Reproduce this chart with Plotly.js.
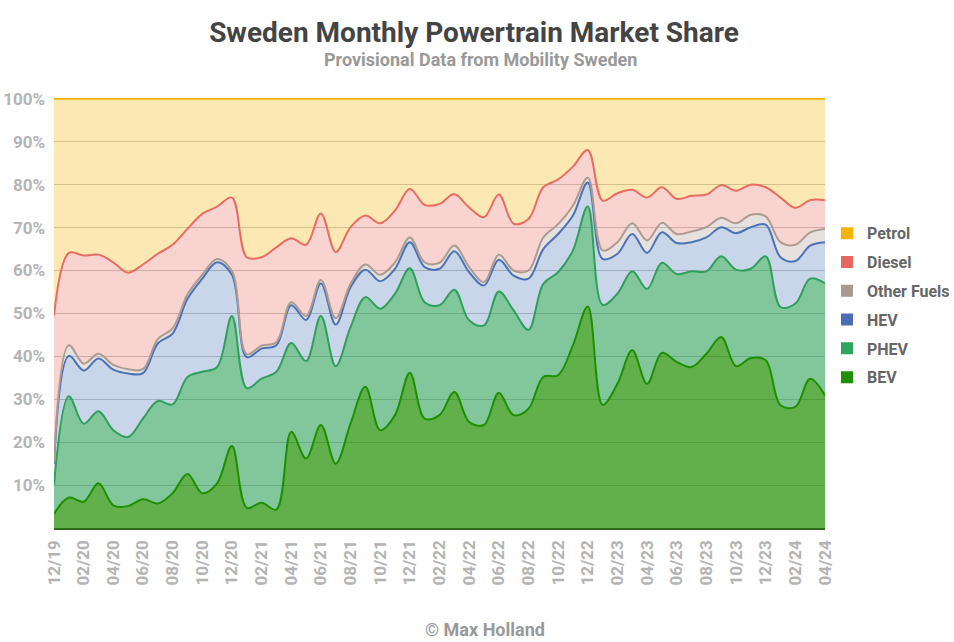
<!DOCTYPE html>
<html>
<head>
<meta charset="utf-8">
<script src="https://cdn.plot.ly/plotly-3.0.1.min.js"></script>
<style>html,body{margin:0;padding:0;background:#fff;}#chart{width:954px;height:642px;}</style>
</head>
<body>
<div id="chart"></div>
<script>
const months = ['12/19','01/20','02/20','03/20','04/20','05/20','06/20','07/20','08/20','09/20','10/20','11/20',
  '12/20','01/21','02/21','03/21','04/21','05/21','06/21','07/21','08/21','09/21','10/21','11/21',
  '12/21','01/22','02/22','03/22','04/22','05/22','06/22','07/22','08/22','09/22','10/22','11/22',
  '12/22','01/23','02/23','03/23','04/23','05/23','06/23','07/23','08/23','09/23','10/23','11/23',
  '12/23','01/24','02/24','03/24','04/24'];

const bev = [3.3,7.1,6.1,10.4,5.3,5.1,6.7,5.7,8.1,12.6,8.1,10.4,
  19.1,4.7,5.9,4.3,22.4,16.2,24.0,15.0,24.3,32.9,22.8,26.3,
  36.2,25.5,26.3,31.7,24.7,24.0,31.5,26.3,27.8,35.2,35.6,42.6,
  51.6,28.7,33.6,41.4,33.6,40.8,38.7,37.5,40.6,44.5,37.7,39.6,
  39.1,28.6,28.2,34.8,30.9];
const phev = [6.7,23.6,18.2,16.8,17.5,16.1,18.8,23.9,20.7,22.6,28.3,27.1,
  30.3,27.9,28.9,32.1,20.7,22.7,25.4,22.7,22.5,20.9,28.3,28.3,
  24.3,27.1,25.6,23.8,23.7,23.2,23.6,24.4,18.4,21.7,24.0,22.1,
  23.3,23.3,21.0,18.4,22.1,21.0,20.5,22.3,19.2,18.8,22.5,20.8,
  24.2,22.9,24.1,23.3,26.1];
const hev = [5.0,9.4,12.4,12.3,14.1,14.8,10.6,13.4,16.5,18.2,21.7,24.4,
  9.6,7.2,7.0,6.2,8.8,9.6,7.6,9.7,9.3,6.4,6.4,5.8,
  6.1,8.2,8.5,9.0,11.2,9.3,7.4,8.1,11.9,8.1,8.9,8.1,
  5.6,10.7,9.3,8.7,8.4,7.1,7.2,6.8,7.9,6.8,8.5,9.7,
  7.4,11.6,9.9,7.7,9.6];
const other = [0.5,2.5,1.6,1.1,1.1,1.0,0.9,1.0,1.2,1.0,0.9,0.8,
  0.9,0.7,0.7,0.7,0.7,0.9,0.8,1.5,0.8,1.2,1.5,1.5,
  1.1,1.1,1.4,1.3,1.2,0.8,1.2,1.2,1.9,2.7,2.3,2.3,
  1.1,2.0,2.7,2.5,2.9,2.2,2.1,2.5,2.4,2.2,2.3,2.9,
  1.9,3.5,3.8,3.1,3.1];
const diesel = [34.0,21.5,25.2,23.1,23.9,22.5,24.4,19.9,19.5,15.3,14.2,12.2,
  17.1,22.6,20.6,22.1,14.9,16.6,15.5,15.4,13.2,11.4,12.0,12.1,
  11.3,13.4,13.7,12.0,13.9,15.1,14.0,10.9,12.0,11.7,10.4,9.1,
  6.5,11.6,11.4,7.8,10.0,8.3,8.2,8.3,7.6,7.6,7.6,7.0,
  6.8,10.4,8.6,7.5,6.7];
const petrol = [50.5,35.9,36.5,36.3,38.1,40.5,38.6,36.1,34.0,30.3,26.8,25.1,
  23.0,36.9,36.9,34.6,32.5,34.0,26.7,35.7,29.9,27.2,29.0,26.0,
  21.0,24.7,24.5,22.2,25.3,27.6,22.3,29.1,28.0,20.6,18.8,15.8,
  11.9,23.7,22.0,21.2,23.0,20.6,23.3,22.6,22.3,20.1,21.4,20.0,
  20.6,23.0,25.4,23.6,23.6];

const seriesNames = ['BEV','PHEV','HEV','Other Fuels','Diesel','Petrol'];
const seriesData = [bev, phev, hev, other, diesel, petrol];
const lineColors = ['#1f8f00','#2ea05a','#4a73b6','#ac9b91','#e86c5f','#f4b400'];
const fillColors = ['rgba(31,143,0,0.70)','rgba(46,160,90,0.60)','rgba(75,115,182,0.30)',
  'rgba(172,155,145,0.30)','rgba(232,108,95,0.30)','rgba(244,180,0,0.30)'];
const legendColors = {'Petrol':'#f4b400','Diesel':'#e8675f','Other Fuels':'#a9998f','HEV':'#4a6eb5','PHEV':'#2da55d','BEV':'#1f8f00'};
const legendOrder = ['Petrol','Diesel','Other Fuels','HEV','PHEV','BEV'];

const traces = [];
seriesNames.forEach((name, i) => {
  traces.push({
    type: 'scatter', x: months, y: seriesData[i], name: name,
    stackgroup: 'one', mode: 'lines',
    line: {color: lineColors[i], width: 2, shape: 'spline', smoothing: 1},
    fillcolor: fillColors[i], showlegend: false, hoverinfo: 'skip'
  });
});
legendOrder.forEach((name, k) => {
  traces.push({
    type: 'scatter', x: [null], y: [null], name: name, mode: 'markers',
    marker: {symbol: 'square', size: 12, color: legendColors[name]},
    legendgroup: 'g' + k, showlegend: true, hoverinfo: 'skip'
  });
});

const tickMonths = months.filter((m, i) => i % 2 === 0);
const gray = '#b4b4b4';

const layout = {
  width: 954, height: 642,
  margin: {l: 54, r: 129, t: 98, b: 114, autoexpand: false},
  paper_bgcolor: '#ffffff', plot_bgcolor: '#ffffff',
  font: {family: 'Roboto, sans-serif', color: '#666'},
  title: {
    text: 'Sweden Monthly Powertrain Market Share',
    font: {family: 'Roboto, sans-serif', size: 28, color: '#444444', weight: 700},
    x: 474/954, xanchor: 'center', xref: 'container', y: 1 - 32/642, yref: 'container', yanchor: 'middle'
  },
  annotations: [
    {text: 'Provisional Data from Mobility Sweden', xref: 'paper', yref: 'paper',
     x: (480-54)/771, y: 1 + (98-60)/430, xanchor: 'center', yanchor: 'middle', showarrow: false,
     font: {family: 'Roboto, sans-serif', size: 18, color: '#999999', weight: 700}},
    {text: '© Max Holland', xref: 'paper', yref: 'paper',
     x: (485-54)/771, y: -(629-528)/430, xanchor: 'center', yanchor: 'middle', showarrow: false,
     font: {family: 'Roboto, sans-serif', size: 18, color: '#999999', weight: 700}}
  ],
  xaxis: {
    type: 'category', range: [0, 52], tickmode: 'array', tickvals: tickMonths, ticktext: tickMonths,
    tickangle: -90, tickfont: {family: 'Roboto, sans-serif', size: 17, color: gray, weight: 700},
    showgrid: false, zeroline: false, showline: true, linecolor: '#2f6b1c', linewidth: 1.5,
    ticks: '', ticklabelstandoff: 4, fixedrange: true
  },
  yaxis: {
    range: [0, 100.2], tickmode: 'array', tickvals: [10,20,30,40,50,60,70,80,90,100],
    ticktext: ['10%','20%','30%','40%','50%','60%','70%','80%','90%','100%'],
    tickfont: {family: 'Roboto, sans-serif', size: 17, color: gray, weight: 700},
    showgrid: true, gridcolor: '#c4c4c4', gridwidth: 1, zeroline: false, showline: false,
    ticks: '', ticklabelstandoff: 8, fixedrange: true
  },
  legend: {
    x: (827-54)/771, xanchor: 'left', y: 0.518, yanchor: 'middle', traceorder: 'grouped',
    tracegroupgap: 5, font: {family: 'Roboto, sans-serif', size: 16, color: '#666666', weight: 700},
    bgcolor: 'rgba(0,0,0,0)', itemwidth: 30
  },
  showlegend: true
};

Plotly.newPlot('chart', traces, layout, {displayModeBar: false, staticPlot: true});
</script>
</body>
</html>
